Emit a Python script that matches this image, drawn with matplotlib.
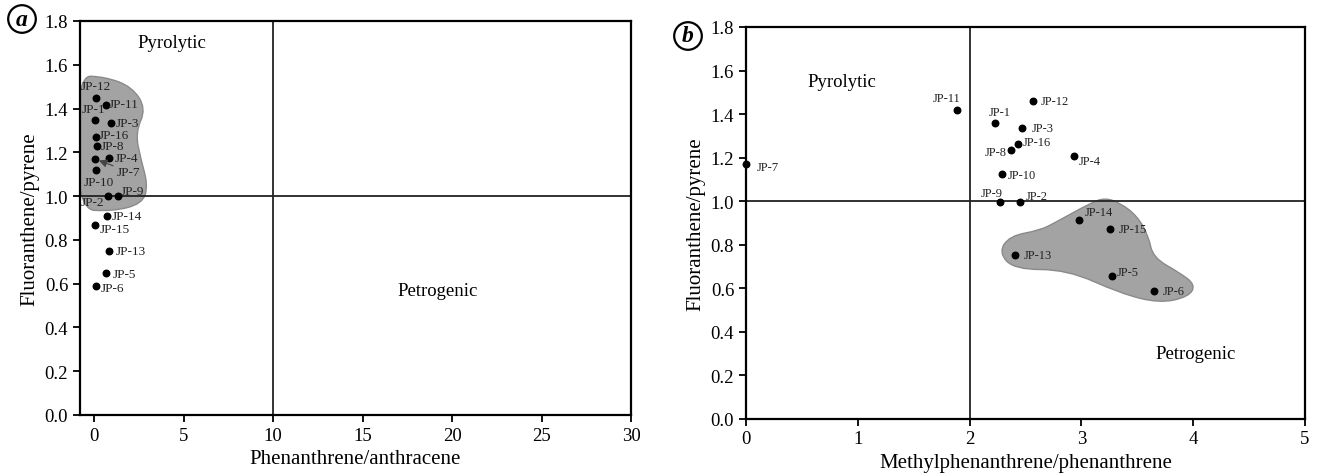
import matplotlib
matplotlib.use("Agg")
import matplotlib.pyplot as plt
from matplotlib.path import Path
from matplotlib.patches import PathPatch

plt.rcParams['font.family'] = ['Liberation Serif', 'DejaVu Serif']

# sample names
names = ['JP-1', 'JP-2', 'JP-3', 'JP-4', 'JP-5', 'JP-6', 'JP-7', 'JP-8',
         'JP-9', 'JP-10', 'JP-11', 'JP-12', 'JP-13', 'JP-14', 'JP-15', 'JP-16']

# fluoranthene/pyrene
flu_pyr_a = [1.348, 1.0, 1.336, 1.176, 0.649, 0.588, 1.169, 1.231,
             1.0, 1.121, 1.414, 1.450, 0.748, 0.911, 0.868, 1.269]
flu_pyr_b = [1.357, 0.997, 1.337, 1.205, 0.654, 0.588, 1.169, 1.234,
             0.997, 1.124, 1.418, 1.461, 0.750, 0.911, 0.870, 1.264]
# phenanthrene/anthracene
phe_ant = [0.05, 0.76, 0.95, 0.85, 0.67, 0.11, 0.04, 0.15,
           1.30, 0.11, 0.67, 0.10, 0.84, 0.73, 0.06, 0.07]
# methylphenanthrene/phenanthrene
mp_phe = [2.23, 2.45, 2.47, 2.93, 3.27, 3.65, 0.0, 2.37,
          2.27, 2.29, 1.89, 2.57, 2.41, 2.98, 3.26, 2.43]

# label offsets in points (dx, dy, ha)
offs_a = {'JP-12': (0, 8, 'center'), 'JP-11': (2, 1, 'left'), 'JP-1': (-1, 8, 'center'),
          'JP-3': (3, 0, 'left'), 'JP-16': (2, 1.5, 'left'), 'JP-8': (3, -0.5, 'left'),
          'JP-4': (4, 0, 'left'), 'JP-10': (2, -9, 'center'), 'JP-2': (-11, -4, 'center'),
          'JP-9': (2, 4, 'left'), 'JP-14': (3, 0, 'left'), 'JP-15': (3, -3, 'left'),
          'JP-13': (5, 0, 'left'), 'JP-5': (5, -1, 'left'), 'JP-6': (3, -1, 'left')}
offs_b = {'JP-11': (-8, 9, 'center'), 'JP-7': (8, -2, 'left'), 'JP-12': (5, 0, 'left'),
          'JP-1': (3, 8, 'center'), 'JP-3': (7, 0, 'left'), 'JP-16': (4, 1, 'left'),
          'JP-8': (-3, -1, 'right'), 'JP-4': (4, -3, 'left'), 'JP-10': (4, -1, 'left'),
          'JP-9': (-6, 6, 'center'), 'JP-2': (4, 4, 'left'), 'JP-14': (4, 6, 'left'),
          'JP-15': (6, 0, 'left'), 'JP-13': (6, 0, 'left'), 'JP-5': (4, 3, 'left'),
          'JP-6': (6, 0, 'left')}

# outlines of the shaded groups
blob_a = [(-1.0, 1.55), (0.6, 1.545), (2.1, 1.50), (2.9, 1.40), (2.3, 1.29),
          (2.6, 1.17), (3.0, 1.05), (2.7, 0.965), (1.0, 0.93), (-1.0, 0.94)]
blob_b = [(3.21, 1.015), (3.08, 0.99), (2.78, 0.905), (2.63, 0.865), (2.36, 0.84),
          (2.26, 0.764), (2.40, 0.685), (2.87, 0.685), (3.35, 0.575), (3.70, 0.53),
          (3.96, 0.56), (4.02, 0.615), (3.88, 0.67), (3.64, 0.74), (3.60, 0.84),
          (3.50, 0.93), (3.35, 0.99)]


def smooth_patch(pts, **kw):
    n = len(pts)
    mids = [((pts[i][0] + pts[(i + 1) % n][0]) / 2, (pts[i][1] + pts[(i + 1) % n][1]) / 2)
            for i in range(n)]
    verts = [mids[-1]]
    codes = [Path.MOVETO]
    for i in range(n):
        verts += [pts[i], mids[i]]
        codes += [Path.CURVE3, Path.CURVE3]
    return PathPatch(Path(verts, codes), **kw)


def style(ax):
    for s in ax.spines.values():
        s.set_linewidth(1.6)
    ax.tick_params(direction='out', length=5, width=1.3, labelsize=13.5)
    ax.set_ylim(0, 1.8)
    ax.set_yticks([0.0, 0.2, 0.4, 0.6, 0.8, 1.0, 1.2, 1.4, 1.6, 1.8])
    ax.set_yticklabels(['%.1f' % v for v in ax.get_yticks()])
    ax.set_ylabel('Fluoranthene/pyrene', fontsize=15)


fig = plt.figure(figsize=(13.17, 4.77), dpi=100)
ax1 = fig.add_axes([0.0607, 0.1279, 0.4184, 0.826])
ax2 = fig.add_axes([0.5664, 0.1205, 0.4245, 0.8208])

# panel a
ax1.add_patch(smooth_patch(blob_a, facecolor='#a3a3a3', edgecolor='#8a8a8a', lw=1, zorder=1))
ax1.axvline(10, color='#222222', lw=1.3, zorder=2)
ax1.axhline(1.0, color='#222222', lw=1.3, zorder=2)
ax1.scatter(phe_ant, flu_pyr_a, s=22, color='black', zorder=3)
for n, x, y in zip(names, phe_ant, flu_pyr_a):
    if n == 'JP-7':
        ax1.annotate(n, xy=(x, y), xytext=(16, -9), textcoords='offset points',
                     fontsize=9.5, va='center', ha='left', color='#222222',
                     arrowprops=dict(arrowstyle='-|>', color='#444444', lw=0.8,
                                     shrinkA=1, shrinkB=3, mutation_scale=12))
        continue
    dx, dy, ha = offs_a[n]
    ax1.annotate(n, xy=(x, y), xytext=(dx, dy), textcoords='offset points',
                 fontsize=9.5, va='center', ha=ha, color='#222222')
ax1.text(4.36, 1.70, 'Pyrolytic', fontsize=13.5, ha='center', va='center')
ax1.text(19.2, 0.57, 'Petrogenic', fontsize=13.5, ha='center', va='center')
ax1.set_xlim(-0.8, 30)
ax1.set_xticks([0, 5, 10, 15, 20, 25, 30])
ax1.set_xlabel('Phenanthrene/anthracene', fontsize=15)
style(ax1)

# panel b
ax2.add_patch(smooth_patch(blob_b, facecolor='#a3a3a3', edgecolor='#8a8a8a', lw=1, zorder=1))
ax2.axvline(2, color='#222222', lw=1.3, zorder=2)
ax2.axhline(1.0, color='#222222', lw=1.3, zorder=2)
ax2.scatter(mp_phe, flu_pyr_b, s=22, color='black', zorder=3, clip_on=False)
for n, x, y in zip(names, mp_phe, flu_pyr_b):
    dx, dy, ha = offs_b[n]
    ax2.annotate(n, xy=(x, y), xytext=(dx, dy), textcoords='offset points',
                 fontsize=9, va='center', ha=ha, color='#222222')
ax2.text(0.86, 1.55, 'Pyrolytic', fontsize=13.5, ha='center', va='center')
ax2.text(4.02, 0.30, 'Petrogenic', fontsize=13.5, ha='center', va='center')
ax2.set_xlim(0, 5)
ax2.set_xticks([0, 1, 2, 3, 4, 5])
ax2.set_xlabel('Methylphenanthrene/phenanthrene', fontsize=15)
style(ax2)

circ = dict(boxstyle='circle,pad=0.14', facecolor='white', edgecolor='black', lw=1.6)
fig.text(22 / 1317, 1 - 20 / 477, 'a', fontsize=17, fontweight='bold', fontstyle='italic',
         ha='center', va='center', bbox=circ)
fig.text(688 / 1317, 1 - 37 / 477, 'b', fontsize=17, fontweight='bold', fontstyle='italic',
         ha='center', va='center', bbox=circ)

fig.savefig('out.png', dpi=100)
